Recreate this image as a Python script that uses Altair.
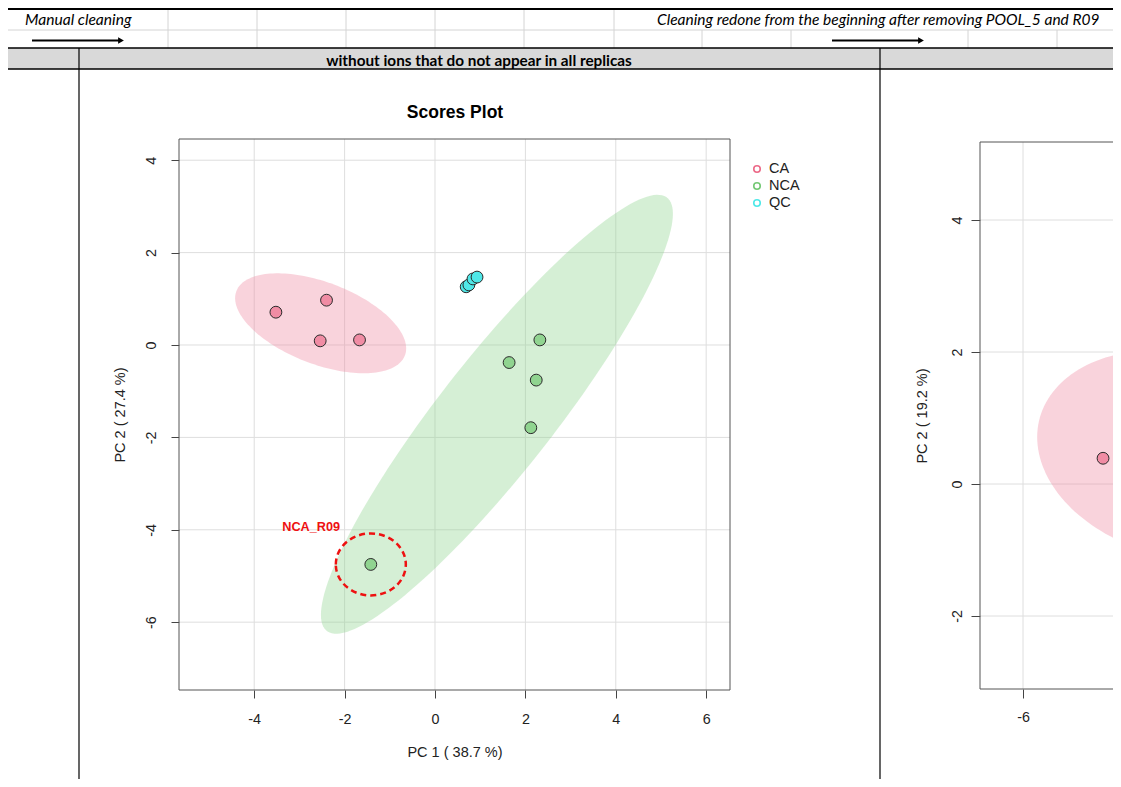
import numpy as np
import pandas as pd
import altair as alt

FONT = "Liberation Sans"
XL_FONT = "Lato"

# ---------------- data ----------------
groups = ["CA", "NCA", "QC"]
fill_colors = ["#F08CA4", "#90D490", "#4FE8E8"]
legend_colors = ["#EC6A88", "#74C874", "#4FE8E8"]

# main scores plot (first PCA)
main_group = ["CA", "CA", "CA", "CA", "NCA", "NCA", "NCA", "NCA", "NCA", "QC", "QC", "QC", "QC"]
main_pc1 = [-3.52, -2.40, -2.54, -1.67, 2.32, 1.64, 2.24, 2.12, -1.42, 0.69, 0.75, 0.84, 0.93]
main_pc2 = [0.71, 0.97, 0.09, 0.11, 0.11, -0.38, -0.76, -1.79, -4.75, 1.26, 1.30, 1.43, 1.47]
x_ticks_main = [-4, -2, 0, 2, 4, 6]
y_ticks_main = [-6, -4, -2, 0, 2, 4]
x_dom_main = [-5.664, 6.527]
y_dom_main = [-7.468, 4.459]

# confidence ellipses: centre and covariance-like terms (data units)
main_ell_group = ["CA", "NCA"]
main_ell_cx = [-2.53, 1.37]
main_ell_cy = [0.47, -1.50]
main_ell_sxx = [3.58, 15.16]
main_ell_syy = [1.17, 22.57]
main_ell_sxy = [-1.03, 16.90]

outlier_name = "NCA_R09"
outlier_index = 8
outlier_label_pc1 = -2.74
outlier_label_pc2 = -3.94

# second (partially visible) scores plot
right_group = ["CA"]
right_pc1 = [-4.35]
right_pc2 = [0.39]
right_ell_group = ["CA"]
right_ell_cx = [-2.76]
right_ell_cy = [0.44]
right_ell_sxx = [8.69]
right_ell_syy = [2.52]
right_ell_sxy = [-0.80]
x_ticks_right = [-6]
y_ticks_right = [-2, 0, 2, 4]
x_dom_right = [-6.887, 4.474]
y_dom_right = [-3.106, 5.182]

# spreadsheet texts
top_left_text = "Manual cleaning"
top_right_text = "Cleaning redone from the beginning after removing POOL_5 and R09"
band_text = "without ions that do not appear in all replicas"
col_lines = [168, 257, 346, 435, 524, 614, 702, 791, 880, 968, 1057]


# ---------------- helpers ----------------
def ellipse_df(gs, cxs, cys, sxxs, syys, sxys, n=160):
    rows = []
    t = np.linspace(0, 2 * np.pi, n, endpoint=False)
    for g, cx, cy, sxx, syy, sxy in zip(gs, cxs, cys, sxxs, syys, sxys):
        l11 = np.sqrt(sxx)
        l21 = sxy / l11
        l22 = np.sqrt(syy - l21 ** 2)
        xs = cx + l11 * np.cos(t)
        ys = cy + l21 * np.cos(t) + l22 * np.sin(t)
        for i, (x, y) in enumerate(zip(xs, ys)):
            rows.append({"group": g, "pc1": x, "pc2": y, "i": i})
    return pd.DataFrame(rows)


one = pd.DataFrame({"k": [0]})
P = 8  # page margin


def hline(x1, x2, y, color, w):
    return alt.Chart(one).mark_rule(color=color, strokeWidth=w).encode(
        x=alt.value(x1 - P), x2=alt.value(x2 - P), y=alt.value(y - P))


def vline(x, y1, y2, color, w):
    return alt.Chart(one).mark_rule(color=color, strokeWidth=w).encode(
        x=alt.value(x - P), y=alt.value(y1 - P), y2=alt.value(y2 - P))


def label(txt, x, y, **kw):
    return alt.Chart(one).mark_text(text=txt, **kw).encode(
        x=alt.value(x - P), y=alt.value(y - P))


FILL = alt.Scale(domain=groups, range=fill_colors)
LABEL_EXPR = "datum.value + ''"
TICK_FS = 14.3
TXT_FS = 14.5

# ---------------- spreadsheet decoration ----------------
deco = []
deco.append(alt.Chart(one).mark_rect(color="#D9D9D9").encode(
    x=alt.value(0), x2=alt.value(1105), y=alt.value(48 - P), y2=alt.value(69 - P)))
deco.append(hline(8, 1121, 30, "#D4D4D4", 1))
for c in col_lines:
    if c < 650:
        deco.append(vline(c, 9, 30, "#D4D4D4", 1))
    if c != 880:
        deco.append(vline(c, 30, 48, "#D4D4D4", 1))
deco.append(hline(8, 1121, 9, "#000000", 2))
deco.append(hline(8, 1121, 48, "#000000", 1.6))
deco.append(hline(8, 1121, 69, "#000000", 1.6))
deco.append(vline(79, 48, 790, "#000000", 1.2))
deco.append(vline(880, 48, 790, "#000000", 1.2))
deco.append(label(top_left_text, 25, 20, font=XL_FONT, fontSize=15.6, fontStyle="italic",
                  align="left", baseline="middle", color="#000"))
deco.append(label(top_right_text, 657, 20, font=XL_FONT, fontSize=15.5, fontStyle="italic",
                  align="left", baseline="middle", color="#000"))
deco.append(label(band_text, 479, 60.5, font=XL_FONT, fontSize=15.3, fontWeight="bold",
                  align="center", baseline="middle", color="#000"))
for x1, x2 in [(32, 119), (832, 919)]:
    deco.append(hline(x1, x2, 40.5, "#000000", 1.8))
    deco.append(alt.Chart(one).mark_point(shape="triangle-right", size=45, filled=True,
                                          color="#000", opacity=1).encode(
        x=alt.value(x2 + 2 - P), y=alt.value(40.5 - P)))

# ---------------- main scores plot ----------------
XS_M = alt.Scale(domain=x_dom_main, range=[171, 722], nice=False, zero=False)
YS_M = alt.Scale(domain=y_dom_main, range=[682, 131], nice=False, zero=False)
AX_MX = alt.Axis(orient="bottom", offset=-89, values=x_ticks_main, grid=False, domain=False,
                 tickSize=8, tickColor="#444", labelFont=FONT, labelFontSize=TICK_FS,
                 labelColor="#222", labelPadding=14, title=None, labelFlush=False,
                 labelOverlap=False, labelExpr=LABEL_EXPR)
AX_MY = alt.Axis(orient="left", offset=-171, values=y_ticks_main, grid=False, domain=False,
                 tickSize=8, tickColor="#444", labelFont=FONT, labelFontSize=TICK_FS,
                 labelColor="#222", labelPadding=15.5, labelAngle=-90, labelAlign="center",
                 labelBaseline="alphabetic", title=None, labelFlush=False, labelOverlap=False,
                 labelExpr=LABEL_EXPR)

main_df = pd.DataFrame({"group": main_group, "pc1": main_pc1, "pc2": main_pc2})
main_ell = ellipse_df(main_ell_group, main_ell_cx, main_ell_cy,
                      main_ell_sxx, main_ell_syy, main_ell_sxy)
out_df = pd.DataFrame({"pc1": [main_pc1[outlier_index]], "pc2": [main_pc2[outlier_index]],
                       "lx": [outlier_label_pc1], "ly": [outlier_label_pc2],
                       "name": [outlier_name]})


def mx(f="pc1"):
    return alt.X(f"{f}:Q", scale=XS_M, axis=AX_MX)


def my(f="pc2"):
    return alt.Y(f"{f}:Q", scale=YS_M, axis=AX_MY)


m_gridx = alt.Chart(pd.DataFrame({"v": x_ticks_main})).mark_rule(
    color="#DEDEDE", strokeWidth=1).encode(
    x=mx("v"), y=alt.datum(y_dom_main[0]), y2=alt.datum(y_dom_main[1]))
m_gridy = alt.Chart(pd.DataFrame({"v": y_ticks_main})).mark_rule(
    color="#DEDEDE", strokeWidth=1).encode(
    y=my("v"), x=alt.datum(x_dom_main[0]), x2=alt.datum(x_dom_main[1]))
m_ell = alt.Chart(main_ell).mark_line(interpolate="linear-closed", strokeWidth=0,
                                      fillOpacity=0.38).encode(
    x=mx(), y=my(), fill=alt.Fill("group:N", scale=FILL, legend=None),
    detail="group:N", order="i:Q")
m_box = alt.Chart(one).mark_rect(filled=False, stroke="#555555", strokeWidth=1).encode(
    x=alt.datum(x_dom_main[0]), x2=alt.datum(x_dom_main[1]),
    y=alt.datum(y_dom_main[0]), y2=alt.datum(y_dom_main[1]))
m_pts = alt.Chart(main_df).mark_circle(size=140, stroke="#2A2A2A", strokeWidth=1,
                                       opacity=1).encode(
    x=mx(), y=my(), fill=alt.Fill("group:N", scale=FILL, legend=None))
RING = "M -1 0 A 1 0.886 0 1 1 1 0 A 1 0.886 0 1 1 -1 0 Z"
m_ring = alt.Chart(out_df).mark_point(shape=RING, size=4900, filled=False, color="#EE1111",
                                      strokeWidth=2.5, strokeDash=[6, 4], opacity=1).encode(
    x=mx(), y=my())
m_lab = alt.Chart(out_df).mark_text(font=FONT, fontSize=12.7, fontWeight="bold",
                                    color="#EE1111").encode(
    x=mx("lx"), y=my("ly"), text="name:N")

main_layer = alt.layer(m_gridx, m_gridy, m_ell, m_box, m_pts, m_ring, m_lab)

# legend (drawn as marks next to the plot, like R's legend())
legend = []
for i, (g, c) in enumerate(zip(groups, legend_colors)):
    yy = 169 + 17 * i
    legend.append(alt.Chart(one).mark_point(shape="circle", size=42, filled=False, color=c,
                                            strokeWidth=1.6, opacity=1).encode(
        x=alt.value(757 - P), y=alt.value(yy - P)))
    legend.append(label(g, 769, yy, font=FONT, fontSize=TXT_FS, align="left",
                        baseline="middle", color="#222"))

# ---------------- right (cropped) scores plot ----------------
XS_R = alt.Scale(domain=x_dom_right, range=[972, 1523], nice=False, zero=False)
YS_R = alt.Scale(domain=y_dom_right, range=[681, 134], nice=False, zero=False)
AX_RX = alt.Axis(orient="bottom", offset=-90, values=x_ticks_right, grid=False, domain=False,
                 tickSize=9, tickColor="#444", labelFont=FONT, labelFontSize=TICK_FS,
                 labelColor="#222", labelPadding=12, title=None, labelFlush=False,
                 labelOverlap=False, labelExpr=LABEL_EXPR)
AX_RY = alt.Axis(orient="left", offset=-972, values=y_ticks_right, grid=False, domain=False,
                 tickSize=9, tickColor="#444", labelFont=FONT, labelFontSize=TICK_FS,
                 labelColor="#222", labelPadding=9.5, labelAngle=-90, labelAlign="center",
                 labelBaseline="alphabetic", title=None, labelFlush=False, labelOverlap=False,
                 labelExpr=LABEL_EXPR)


def rx(f="pc1"):
    return alt.X(f"{f}:Q", scale=XS_R, axis=AX_RX)


def ry(f="pc2"):
    return alt.Y(f"{f}:Q", scale=YS_R, axis=AX_RY)


right_df = pd.DataFrame({"group": right_group, "pc1": right_pc1, "pc2": right_pc2})
right_ell = ellipse_df(right_ell_group, right_ell_cx, right_ell_cy,
                       right_ell_sxx, right_ell_syy, right_ell_sxy)

r_gridx = alt.Chart(pd.DataFrame({"v": x_ticks_right})).mark_rule(
    color="#DEDEDE", strokeWidth=1).encode(
    x=rx("v"), y=alt.datum(y_dom_right[0]), y2=alt.datum(y_dom_right[1]))
r_gridy = alt.Chart(pd.DataFrame({"v": y_ticks_right})).mark_rule(
    color="#DEDEDE", strokeWidth=1).encode(
    y=ry("v"), x=alt.datum(x_dom_right[0]), x2=alt.datum(x_dom_right[1]))
r_ell = alt.Chart(right_ell).mark_line(interpolate="linear-closed", strokeWidth=0,
                                       fillOpacity=0.38).encode(
    x=rx(), y=ry(), fill=alt.Fill("group:N", scale=FILL, legend=None),
    detail="group:N", order="i:Q")
r_box = alt.Chart(one).mark_rect(filled=False, stroke="#555555", strokeWidth=1).encode(
    x=alt.datum(x_dom_right[0]), x2=alt.datum(x_dom_right[1]),
    y=alt.datum(y_dom_right[0]), y2=alt.datum(y_dom_right[1]))
r_pts = alt.Chart(right_df).mark_circle(size=140, stroke="#2A2A2A", strokeWidth=1,
                                        opacity=1).encode(
    x=rx(), y=ry(), fill=alt.Fill("group:N", scale=FILL, legend=None))

right_layer = alt.layer(r_gridx, r_gridy, r_ell, r_box, r_pts)

# ---------------- titles ----------------
titles = [
    label("Scores Plot", 455, 113, font=FONT, fontSize=17.5, fontWeight="bold",
          align="center", baseline="middle", color="#000"),
    label("PC 1 ( 38.7 %)", 455, 753, font=FONT, fontSize=TXT_FS, align="center",
          baseline="middle", color="#222"),
    label("PC 2 ( 27.4 %)", 121, 415, font=FONT, fontSize=TXT_FS, angle=270, align="center",
          baseline="middle", color="#222"),
    label("PC 2 ( 19.2 %)", 923, 416, font=FONT, fontSize=TXT_FS, angle=270, align="center",
          baseline="middle", color="#222"),
]

chart = alt.layer(*deco, main_layer, right_layer, *legend, *titles).resolve_scale(
    x="independent", y="independent"
).properties(
    width=1105, height=771, autosize="none", padding=0, background="white"
).configure_view(stroke=None)

chart.save("out.html", embed_options={"renderer": "svg", "actions": False})
